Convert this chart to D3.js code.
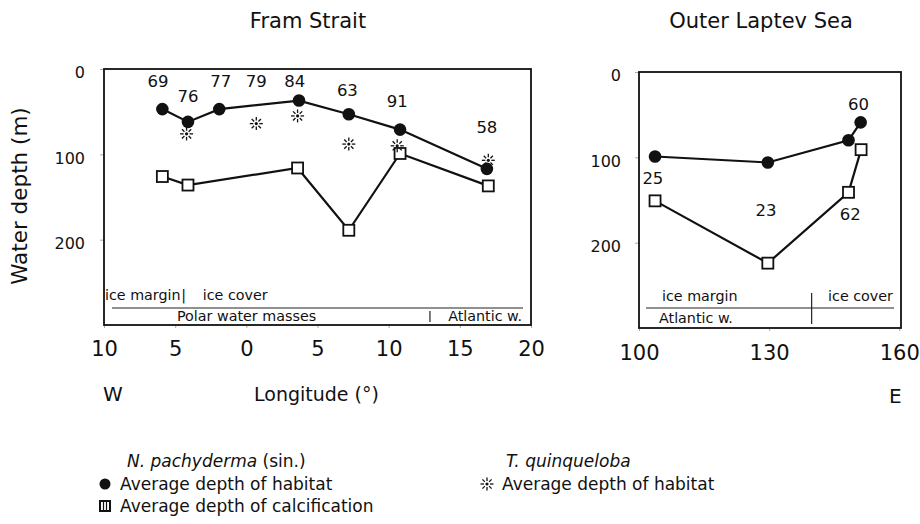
<!DOCTYPE html>
<html>
<head>
<meta charset="utf-8">
<script src="https://cdn.jsdelivr.net/npm/d3@7/dist/d3.min.js"></script>
<style>
  body { margin: 0; background: #fff; }
  svg { display: block; }
  text { font-family: "DejaVu Sans", Verdana, sans-serif; fill: #111; }
</style>
</head>
<body>
<div id="chart"></div>
<script>
// ---- Fram Strait (longitude in degrees, negative = W) ----
const framHabitatLon   = [-5.9, -4.1, -1.9, 3.7, 7.2, 10.8, 16.9];
const framHabitatDepth = [47, 62, 47, 37, 53, 71, 117];
const framCalcLon      = [-5.9, -4.1, 3.6, 7.2, 10.8, 17.0];
const framCalcDepth    = [126, 136, 116, 189, 99, 137];
const framQuinqLon     = [-4.2, 0.7, 3.6, 7.2, 10.6, 17.0];
const framQuinqDepth   = [76, 64, 55, 88, 90, 107];
// station counts written above the profile
const framCounts     = [69, 76, 77, 79, 84, 63, 91, 58];
const framCountLon   = [-6.2, -4.1, -1.8, 0.7, 3.4, 7.1, 10.6, 16.9];
const framCountDepth = [14, 32, 14, 14, 14, 25, 38, 68];

// ---- Outer Laptev Sea (degrees E) ----
const laptevHabitatLon   = [103.7, 129.7, 148.3, 151.1];
const laptevHabitatDepth = [99, 106, 80, 59];
const laptevCalcLon      = [103.7, 129.7, 148.3, 151.2];
const laptevCalcDepth    = [151, 224, 141, 91];
const laptevCounts     = [25, 23, 62, 60];
const laptevCountLon   = [103.2, 129.3, 148.7, 150.6];
const laptevCountDepth = [124, 162, 166, 37];

// axes
const depthTicks  = [0, 100, 200];
const framLonTicks   = [-10, -5, 0, 5, 10, 15, 20];
const laptevLonTicks = [100, 130, 160];

// zones along the bottom of each panel
const framIceBreak = -4.4;      // ice margin | ice cover
const framWaterBreak = 12.9;    // Polar | Atlantic
const laptevBreak = 139.8;

const W = 920, H = 524;
const svg = d3.select('#chart').append('svg')
  .attr('width', W).attr('height', H)
  .attr('viewBox', [0, 0, W, H]);

function panel(opts) {
  const { left, right, top, bottom, lonDomain } = opts;
  const x = d3.scaleLinear().domain(lonDomain).range([left, right]);
  const y = d3.scaleLinear().domain([0, 300]).range([top, bottom]);
  const g = svg.append('g');

  // y axis
  const ya = g.append('g')
    .attr('transform', `translate(${left},0)`)
    .call(d3.axisLeft(y).tickValues(depthTicks).tickSize(4).tickPadding(opts.yPad));
  ya.select('.domain').remove();
  ya.selectAll('line').attr('stroke', '#aaa');
  ya.selectAll('text')
    .attr('dy', '0.36em')
    .attr('y', 3)
    .style('font-size', '16px');

  // x axis
  const xa = g.append('g')
    .attr('transform', `translate(0,${bottom})`)
    .call(d3.axisBottom(x).tickValues(opts.lonTicks)
      .tickFormat(d => Math.abs(d)).tickSize(3).tickPadding(opts.xPad));
  xa.select('.domain').remove();
  xa.selectAll('line').attr('stroke', '#aaa');
  xa.selectAll('text').style('font-size', '21px');

  // frame
  g.append('rect')
    .attr('x', left).attr('y', top)
    .attr('width', right - left).attr('height', bottom - top)
    .attr('fill', 'none').attr('stroke', '#111').attr('stroke-width', 1.8);

  return { g, x, y };
}

function profile(p, lons, depths, marker) {
  const pts = lons.map((lon, i) => [p.x(lon), p.y(depths[i])]);
  p.g.append('path')
    .attr('d', d3.line()(pts))
    .attr('fill', 'none')
    .attr('stroke', '#111')
    .attr('stroke-width', 2.2);
  if (marker === 'dot') {
    p.g.selectAll(null).data(pts).join('circle')
      .attr('cx', d => d[0]).attr('cy', d => d[1]).attr('r', 6.3)
      .attr('fill', '#111');
  } else {
    p.g.selectAll(null).data(pts).join('rect')
      .attr('x', d => d[0] - 5.5).attr('y', d => d[1] - 5.5)
      .attr('width', 11).attr('height', 11)
      .attr('fill', '#fff').attr('stroke', '#111').attr('stroke-width', 1.8);
  }
}

function star(sel, cx, cy) {
  const s = sel.append('g').attr('transform', `translate(${cx},${cy})`);
  s.append('circle').attr('r', 1.6).attr('fill', '#111');
  d3.range(8).forEach(k => {
    const a = k * Math.PI / 4;
    s.append('line')
      .attr('x1', 3 * Math.cos(a)).attr('y1', 3 * Math.sin(a))
      .attr('x2', 6.5 * Math.cos(a)).attr('y2', 6.5 * Math.sin(a))
      .attr('stroke', '#111').attr('stroke-width', 1.3);
  });
}

function counts(p, values, lons, depths) {
  p.g.selectAll(null).data(values).join('text')
    .attr('x', (d, i) => p.x(lons[i]))
    .attr('y', (d, i) => p.y(depths[i]))
    .attr('dy', '0.36em')
    .attr('text-anchor', 'middle')
    .style('font-size', '16.5px')
    .text(d => d);
}

const zoneFont = '14.3px';

// ---------- Fram Strait ----------
const fram = panel({
  left: 104, right: 531, top: 69, bottom: 325,
  lonDomain: [-10, 20], lonTicks: framLonTicks,
  yPad: 15, xPad: 13
});
profile(fram, framCalcLon, framCalcDepth, 'square');
profile(fram, framHabitatLon, framHabitatDepth, 'dot');
framQuinqLon.forEach((lon, i) => star(fram.g, fram.x(lon), fram.y(framQuinqDepth[i])));
counts(fram, framCounts, framCountLon, framCountDepth);

// zone annotations
{
  const g = fram.g, b = 325;
  g.append('text').attr('x', 105).attr('y', b - 25)
    .style('font-size', zoneFont).text('ice margin');
  g.append('text').attr('x', fram.x(framIceBreak)).attr('y', b - 25)
    .attr('text-anchor', 'middle').style('font-size', zoneFont).text('|');
  g.append('text').attr('x', fram.x(framIceBreak) + 19).attr('y', b - 25)
    .style('font-size', zoneFont).text('ice cover');
  g.append('line').attr('x1', 112).attr('x2', 523)
    .attr('y1', b - 17).attr('y2', b - 17)
    .attr('stroke', '#222').attr('stroke-width', 1.2);
  g.append('text').attr('x', 177).attr('y', b - 4)
    .style('font-size', zoneFont).text('Polar water masses');
  g.append('line').attr('x1', fram.x(framWaterBreak)).attr('x2', fram.x(framWaterBreak))
    .attr('y1', b - 14).attr('y2', b - 3)
    .attr('stroke', '#222').attr('stroke-width', 1.2);
  g.append('text').attr('x', 522).attr('y', b - 4)
    .attr('text-anchor', 'end').style('font-size', zoneFont).text('Atlantic w.');
}

// ---------- Outer Laptev Sea ----------
const laptev = panel({
  left: 639, right: 901, top: 72, bottom: 328,
  lonDomain: [100, 160.4], lonTicks: laptevLonTicks,
  yPad: 14, xPad: 14
});
profile(laptev, laptevCalcLon, laptevCalcDepth, 'square');
profile(laptev, laptevHabitatLon, laptevHabitatDepth, 'dot');
counts(laptev, laptevCounts, laptevCountLon, laptevCountDepth);

{
  const g = laptev.g, b = 328;
  const bx = laptev.x(laptevBreak);
  g.append('text').attr('x', 662).attr('y', b - 27)
    .style('font-size', zoneFont).text('ice margin');
  g.append('text').attr('x', 893).attr('y', b - 27)
    .attr('text-anchor', 'end').style('font-size', zoneFont).text('ice cover');
  g.append('line').attr('x1', 646).attr('x2', 894)
    .attr('y1', b - 20).attr('y2', b - 20)
    .attr('stroke', '#222').attr('stroke-width', 1.2);
  g.append('line').attr('x1', bx).attr('x2', bx)
    .attr('y1', b - 35).attr('y2', b - 4)
    .attr('stroke', '#222').attr('stroke-width', 1.2);
  g.append('text').attr('x', 659).attr('y', b - 5)
    .style('font-size', zoneFont).text('Atlantic w.');
}

// ---------- titles & axis labels ----------
svg.append('text').attr('x', 308).attr('y', 28).attr('text-anchor', 'middle')
  .style('font-size', '21px').text('Fram Strait');
svg.append('text').attr('x', 761).attr('y', 28).attr('text-anchor', 'middle')
  .style('font-size', '21px').text('Outer Laptev Sea');
svg.append('text')
  .attr('transform', 'translate(27,196) rotate(-90)')
  .attr('text-anchor', 'middle')
  .style('font-size', '21.5px').text('Water depth (m)');
svg.append('text').attr('x', 103).attr('y', 401).style('font-size', '20px').text('W');
svg.append('text').attr('x', 254).attr('y', 401).style('font-size', '19px').text('Longitude (°)');
svg.append('text').attr('x', 889).attr('y', 403).style('font-size', '20px').text('E');

// ---------- legend ----------
{
  const lg = svg.append('g');
  const fs = '17px';
  const r1 = 467, r2 = 490, r3 = 512;
  const t1 = lg.append('text').attr('x', 127).attr('y', r1).style('font-size', fs);
  t1.append('tspan').style('font-style', 'italic').text('N. pachyderma');
  t1.append('tspan').text(' (sin.)');
  lg.append('circle').attr('cx', 105).attr('cy', r2 - 6).attr('r', 5.5).attr('fill', '#111');
  lg.append('text').attr('x', 120).attr('y', r2).style('font-size', fs)
    .text('Average depth of habitat');
  lg.append('rect').attr('x', 100).attr('y', r3 - 11).attr('width', 10).attr('height', 10)
    .attr('fill', '#fff').attr('stroke', '#111').attr('stroke-width', 2);
  lg.append('line').attr('x1', 103.5).attr('x2', 103.5).attr('y1', r3 - 10).attr('y2', r3 - 2)
    .attr('stroke', '#111').attr('stroke-width', 1.2);
  lg.append('line').attr('x1', 106.5).attr('x2', 106.5).attr('y1', r3 - 10).attr('y2', r3 - 2)
    .attr('stroke', '#111').attr('stroke-width', 1.2);
  lg.append('text').attr('x', 120).attr('y', r3).style('font-size', fs)
    .text('Average depth of calcification');

  lg.append('text').attr('x', 506).attr('y', r1).style('font-size', fs)
    .style('font-style', 'italic').text('T. quinqueloba');
  star(lg, 487, r2 - 6);
  lg.append('text').attr('x', 502).attr('y', r2).style('font-size', fs)
    .text('Average depth of habitat');
}
</script>
</body>
</html>
